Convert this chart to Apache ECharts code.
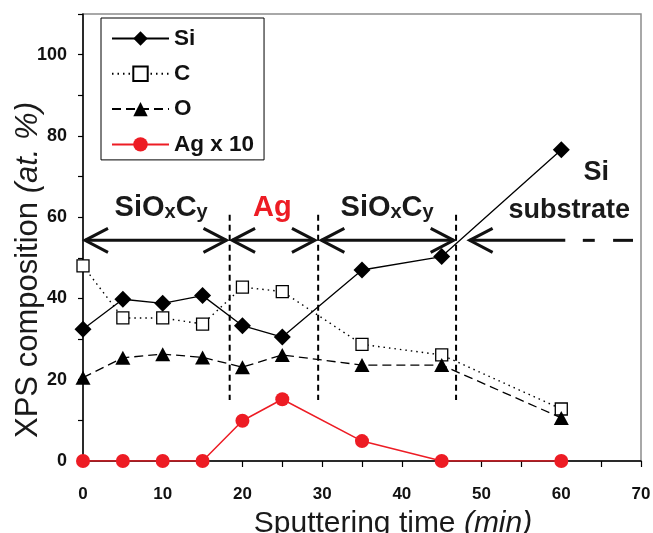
<!DOCTYPE html>
<html><head><meta charset="utf-8">
<script src="https://cdn.jsdelivr.net/npm/echarts@6/dist/echarts.min.js"></script>
<style>html,body{margin:0;padding:0;background:#fff}#c{width:653px;height:533px}</style>
</head><body><div id="c"></div>
<script>
// ---- data ----
const times = [0, 5, 10, 15, 20, 25, 35, 45, 60];
const siValues = [32.4, 39.8, 38.8, 40.7, 33.3, 30.5, 47.0, 50.3, 76.6];
const cValues = [48.0, 35.2, 35.2, 33.7, 42.8, 41.7, 28.7, 26.1, 12.8];
const oValues = [20.5, 25.4, 26.3, 25.5, 23.1, 26.1, 23.6, 23.6, 10.6];
const agX10Values = [0, 0, 0, 0, 9.9, 15.2, 4.9, 0, 0];
const seriesNames = ['Si', 'C', 'O', 'Ag x 10'];
const xTickLabels = [0, 10, 20, 30, 40, 50, 60, 70];
const yTickLabels = [0, 20, 40, 60, 80, 100];

// layer boundaries (min) and layer labels
const boundaries = [18.4, 29.5, 46.8];
const layerArrows = [[0.25, 18.0], [18.7, 29.1], [29.9, 46.5]];
const layerLabels = [
  { text: '{m|SiO}{s|x}{m|C}{s|y}', x: 9.8 },
  { text: '{r|Ag}', x: 23.75 },
  { text: '{m|SiO}{s|x}{m|C}{s|y}', x: 38.15 }
];

const FONT = '"Liberation Sans", Arial, sans-serif';
const pair = (xs, ys) => xs.map((x, i) => [x, ys[i]]);

const chart = echarts.init(document.getElementById('c'), null, { renderer: 'canvas' });

const option = {
  animation: false,
  backgroundColor: '#fff',
  grid: {
    left: 83, right: 12, top: 14, bottom: 72,
    show: true, borderColor: '#8c8c8c', borderWidth: 1.5,
    containLabel: false, outerBoundsMode: 'none'
  },
  legend: {
    orient: 'vertical', left: 101, top: 18,
    itemWidth: 57, itemHeight: 18, itemGap: 12.3,
    padding: [9, 10, 4, 10],
    borderColor: '#000', borderWidth: 1, backgroundColor: '#fff',
    textStyle: { fontFamily: FONT, fontWeight: 'bold', fontSize: 22.5, lineHeight: 22, color: '#111' },
    data: seriesNames
  },
  xAxis: {
    type: 'value', min: 0, max: 70, interval: 5,
    axisLine: { show: true, lineStyle: { color: '#000', width: 1.5 } },
    axisTick: { show: true, inside: false, length: 6, lineStyle: { color: '#000', width: 1.2 } },
    splitLine: { show: false },
    axisLabel: {
      margin: 25, fontFamily: FONT, fontWeight: 'bold', fontSize: 17, color: '#111',
      formatter: v => xTickLabels.includes(v) ? String(v) : ''
    }
  },
  yAxis: {
    type: 'value', min: 0, max: 110, interval: 10,
    axisLine: { show: true, lineStyle: { color: '#000', width: 1.5 } },
    axisTick: { show: true, inside: false, length: 5, lineStyle: { color: '#000', width: 1.2 } },
    splitLine: { show: false },
    axisLabel: {
      margin: 16, fontFamily: FONT, fontWeight: 'bold', fontSize: 18, color: '#111',
      formatter: v => yTickLabels.includes(v) ? String(v) : ''
    }
  },
  series: [
    {
      name: seriesNames[0], type: 'line', data: pair(times, siValues), z: 4,
      symbol: 'diamond', symbolSize: 17,
      itemStyle: { color: '#000' },
      lineStyle: { color: '#000', width: 1.3 }
    },
    {
      name: seriesNames[1], type: 'line', data: pair(times, cValues), z: 3,
      symbol: 'rect', symbolSize: 12,
      itemStyle: { color: '#fff', borderColor: '#000', borderWidth: 1.3 },
      lineStyle: { color: '#000', width: 1.4, type: [1.5, 4] }
    },
    {
      name: seriesNames[2], type: 'line', data: pair(times, oValues), z: 3,
      symbol: 'triangle', symbolSize: [15, 14],
      itemStyle: { color: '#000' },
      lineStyle: { color: '#000', width: 1.3, type: [9, 5] }
    },
    {
      name: seriesNames[3], type: 'line', data: pair(times, agX10Values), z: 5,
      symbol: 'circle', symbolSize: 14,
      itemStyle: { color: '#ed1c24' },
      lineStyle: { color: '#ed1c24', width: 1.5 }
    }
  ]
};
chart.setOption(option);

// ---- annotations (computed through the chart's own scales) ----
const P = (x, y) => chart.convertToPixel({ gridIndex: 0 }, [x, y]);
const g = [];
const ARROW_Y = 54.3, HEAD_L = 23, HEAD_H = 12;

boundaries.forEach(b => {
  const a = P(b, 60.6), c = P(b, 15);
  g.push({ type: 'line', z: 1, shape: { x1: a[0], y1: a[1], x2: c[0], y2: c[1] },
    style: { stroke: '#000', lineWidth: 2, lineDash: [6, 4] } });
});

function head(tipX, dir) {
  const t = P(tipX, ARROW_Y);
  g.push({ type: 'polyline', z: 6,
    shape: { points: [[t[0] + dir * HEAD_L, t[1] - HEAD_H], [t[0], t[1]], [t[0] + dir * HEAD_L, t[1] + HEAD_H]] },
    style: { stroke: '#111', lineWidth: 3, fill: null } });
}
function shaft(x1, x2) {
  const a = P(x1, ARROW_Y), c = P(x2, ARROW_Y);
  g.push({ type: 'line', z: 6, shape: { x1: a[0], y1: a[1], x2: c[0], y2: c[1] },
    style: { stroke: '#111', lineWidth: 3 } });
}
layerArrows.forEach(([l, r]) => { shaft(l, r); head(l, 1); head(r, -1); });
// substrate arrow: head at 48.5, solid to 60.5, then dashes
head(48.5, 1);
shaft(48.5, 60.5);
shaft(62.7, 64.2);
shaft(66.5, 69.0);

const richCommon = {
  m: { fontFamily: FONT, fontWeight: 'bold', fontSize: 29, lineHeight: 30, verticalAlign: 'bottom', fill: '#1a1a1a' },
  s: { fontFamily: FONT, fontWeight: 'bold', fontSize: 20, lineHeight: 20, verticalAlign: 'bottom', fill: '#1a1a1a' },
  r: { fontFamily: FONT, fontWeight: 'bold', fontSize: 29, lineHeight: 30, verticalAlign: 'bottom', fill: '#ed1c24' }
};
layerLabels.forEach(l => {
  const p = P(l.x, 62.4);
  g.push({ type: 'text', z: 6, x: p[0], y: p[1],
    style: { text: l.text, rich: richCommon, align: 'center', verticalAlign: 'middle' } });
});
const siP = P(64.4, 70.9);
g.push({ type: 'text', z: 6, x: siP[0], y: siP[1],
  style: { text: 'Si', fontFamily: FONT, fontWeight: 'bold', fontSize: 27, fill: '#1a1a1a', align: 'center', verticalAlign: 'middle' } });
const subP = P(61.0, 61.7);
g.push({ type: 'text', z: 6, x: subP[0], y: subP[1],
  style: { text: 'substrate', fontFamily: FONT, fontWeight: 'bold', fontSize: 27, fill: '#1a1a1a', align: 'center', verticalAlign: 'middle' } });

// axis titles
g.push({ type: 'text', z: 6, x: 393, y: 523.5,
  style: { text: '{a|Sputtering time }{b|(min)}', align: 'center', verticalAlign: 'middle',
    rich: { a: { fontFamily: FONT, fontSize: 30, fill: '#1a1a1a' }, b: { fontFamily: FONT, fontSize: 30, fontStyle: 'italic', fill: '#1a1a1a' } } } });
g.push({ type: 'text', z: 6, x: 28, y: 270, rotation: Math.PI / 2,
  style: { text: '{a|XPS composition }{b|(at. %)}', align: 'center', verticalAlign: 'middle',
    rich: { a: { fontFamily: FONT, fontSize: 31, fill: '#1a1a1a' }, b: { fontFamily: FONT, fontSize: 31, fontStyle: 'italic', fill: '#1a1a1a' } } } });

chart.setOption({ graphic: { elements: g } });
</script>
</body></html>
